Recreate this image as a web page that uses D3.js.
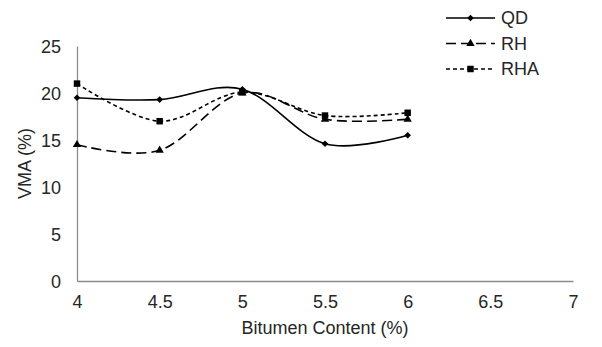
<!DOCTYPE html>
<html>
<head>
<meta charset="utf-8">
<script src="https://cdn.jsdelivr.net/npm/d3@7"></script>
<style>
  body { margin: 0; background: #fff; }
  text { font-family: "Liberation Sans", Arial, sans-serif; fill: #262626; }
</style>
</head>
<body>
<div id="chart"></div>
<script>
const bitumen = [4, 4.5, 5, 5.5, 6];
const qd = [19.5, 19.3, 20.4, 14.6, 15.5];
const rh = [14.5, 13.9, 20.0, 17.2, 17.2];
const rha = [21.0, 17.0, 20.1, 17.6, 17.9];
const xTicks = [4, 4.5, 5, 5.5, 6, 6.5, 7];
const yTicks = [0, 5, 10, 15, 20, 25];

const series = [
    {name: "QD", values: qd, dash: null, symbol: d3.symbolSquare, size: 22, rotate: 45},
    {name: "RH", values: rh, dash: "10,5", symbol: d3.symbolTriangle, size: 30, rotate: 0},
    {name: "RHA", values: rha, dash: "4,3", symbol: d3.symbolSquare, size: 42, rotate: 0}
];

const svgWidth = 602;
const svgHeight = 347;
const margins = {top: 46, right: 29, bottom: 66, left: 77};
const chartWidth = svgWidth - margins.left - margins.right;
const chartHeight = svgHeight - margins.top - margins.bottom;

const svg = d3.select("#chart")
    .append("svg")
    .attr("width", svgWidth)
    .attr("height", svgHeight);

const chartGroup = svg.append("g")
    .attr("transform", `translate(${margins.left}, ${margins.top})`);

const xScale = d3.scaleLinear().domain([4, 7]).range([0, chartWidth]);
const yScale = d3.scaleLinear().domain([0, 25]).range([chartHeight, 0]);

// axes without tick marks
const xAxis = d3.axisBottom(xScale).tickValues(xTicks).tickSize(0).tickPadding(14).tickFormat(d3.format(""));
const yAxis = d3.axisLeft(yScale).tickValues(yTicks).tickSize(0).tickPadding(16);

const xg = chartGroup.append("g")
    .attr("transform", `translate(0, ${chartHeight})`)
    .call(xAxis);
const yg = chartGroup.append("g").call(yAxis);

[xg, yg].forEach(g => {
    g.select(".domain").attr("stroke", "#8c8c8c").attr("stroke-width", 1.3);
    g.selectAll("text")
        .style("font-family", "Liberation Sans, Arial, sans-serif")
        .style("font-size", "18px")
        .style("fill", "#262626");
});
xg.selectAll("text").attr("dy", "0.71em");
yg.selectAll("text").attr("dy", "0.35em");

const line = d3.line()
    .x((d, i) => xScale(bitumen[i]))
    .y(d => yScale(d))
    .curve(d3.curveCatmullRom.alpha(0));

series.forEach(s => {
    chartGroup.append("path")
        .datum(s.values)
        .attr("d", line)
        .attr("fill", "none")
        .attr("stroke", "#000")
        .attr("stroke-width", 1.6)
        .attr("stroke-dasharray", s.dash);

    chartGroup.selectAll(".pt-" + s.name)
        .data(s.values)
        .enter()
        .append("path")
        .attr("class", "pt-" + s.name)
        .attr("d", d3.symbol().type(s.symbol).size(s.size))
        .attr("transform", (d, i) => `translate(${xScale(bitumen[i])}, ${yScale(d)}) rotate(${s.rotate})`)
        .attr("fill", "#000");
});

// legend
const legend = svg.append("g").attr("transform", "translate(446, 18)");
series.forEach((s, i) => {
    const row = legend.append("g").attr("transform", `translate(0, ${i * 25.5})`);
    row.append("line")
        .attr("x1", 0).attr("x2", 49)
        .attr("stroke", "#000")
        .attr("stroke-width", 1.6)
        .attr("stroke-dasharray", s.dash);
    row.append("path")
        .attr("d", d3.symbol().type(s.symbol).size(s.size))
        .attr("transform", `translate(24.5, 0) rotate(${s.rotate})`)
        .attr("fill", "#000");
    row.append("text")
        .attr("x", 55)
        .attr("dy", "0.35em")
        .style("font-size", "18px")
        .text(s.name);
});

svg.append("text")
    .attr("x", margins.left + xScale(5.5))
    .attr("y", 334)
    .attr("text-anchor", "middle")
    .style("font-size", "18px")
    .text("Bitumen Content (%)");

svg.append("text")
    .attr("transform", `translate(31, ${margins.top + yScale(12.5)}) rotate(-90)`)
    .attr("text-anchor", "middle")
    .style("font-size", "18px")
    .text("VMA (%)");
</script>
</body>
</html>
